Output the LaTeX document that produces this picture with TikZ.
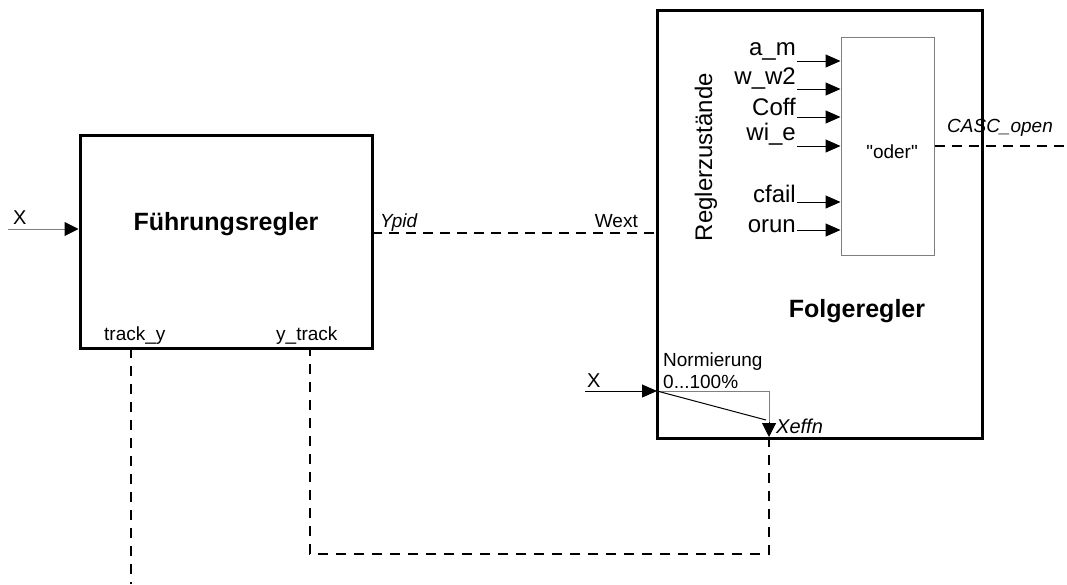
\documentclass[tikz,border=0pt]{standalone}
\usepackage{fontspec}
\setmainfont{Liberation Sans}
\newfontfamily\plainquotes{Liberation Sans}
\usetikzlibrary{arrows.meta, positioning, calc}
\definecolor{CGrayLine}{HTML}{7F7F7F}
\newcommand{\pxfont}[1]{\fontsize{#1}{#1}\selectfont}

\begin{document}
\begin{tikzpicture}[x=1pt, y=-1pt,
    regler/.style={draw, line width=3pt, inner sep=0pt},
    lbl/.style={inner sep=0pt, font=\pxfont{19}},
    biglbl/.style={inner sep=0pt, font=\pxfont{24}},
    title/.style={inner sep=0pt, font=\pxfont{25}\bfseries},
    sig/.style={line width=1pt, -{Triangle[length=15pt, width=13pt]}},
    dashsig/.style={line width=2pt, dash pattern=on 10pt off 7pt},
    dashtrack/.style={line width=2.5pt, dash pattern=on 10pt off 8pt}
]
    \useasboundingbox (0,0) rectangle (1067,584);

    % Blocks
    \node[regler, minimum width=292pt, minimum height=213pt] (fuehrung) at (226,241.5) {};
    \node[regler, minimum width=325pt, minimum height=428pt] (folge) at (819.5,224) {};
    \node[draw=CGrayLine, line width=1pt, minimum width=93pt, minimum height=218pt] (oder) at (887.5,146) {};

    % Titles
    \node[title, anchor=base] (fuehrungtext) at (226,230) {Führungsregler};
    \node[title, anchor=base] (folgetext) at (857,317) {Folgeregler};
    \node[biglbl, rotate=90, anchor=base] (zustand) at (712,157) {Reglerzustände};
    \node[lbl, anchor=base, font=\pxfont{19}\plainquotes] (odertext) at (892,158) {"oder"};

    % Input X of Fuehrungsregler
    \node[lbl, anchor=base west, font=\pxfont{20}] (xin) at (13,224) {X};
    \coordinate (xstart) at (8,229);
    \draw[CGrayLine, line width=1pt, -{Triangle[length=14pt, width=14pt, color=black, fill=black]}]
        (xstart) -- (xstart -| fuehrung.west);

    % Tracking labels
    \node[lbl, anchor=base west] (tracky) at (104,340) {track\_y};
    \node[lbl, anchor=base west] (ytrack) at (276,340) {y\_track};

    % Ypid -> Wext
    \coordinate (ypid) at (372,233);
    \node[lbl, anchor=base west, font=\pxfont{19}\itshape] (ypidtext) at (380,227) {Ypid};
    \node[lbl, anchor=base east] (wexttext) at (638,227) {Wext};
    \draw[dashsig] (ypid) -- (ypid -| folge.west);

    % Reglerzustaende -> oder
    \foreach \name/\txt/\base/\ly in {am/a\_m/55/61, ww/w\_w2/84/89, coff/Coff/115/117,
                                     wie/wi\_e/140/146, cfail/cfail/202/202, orun/orun/232/230} {
        \node[biglbl, anchor=base east] (\name) at (796,\base) {\txt};
        \coordinate (\name-in) at (797,\ly);
        \draw[sig] (\name-in) -- (\name-in -| oder.west);
    }

    % CASC_open
    \node[lbl, anchor=base west, font=\pxfont{19}\itshape] (casc) at (947,132) {CASC\_open};
    \coordinate (cascend) at (1067,146);
    \draw[dashsig] (oder.east |- cascend) -- (cascend);

    % Normierung
    \node[lbl, anchor=base west] (norm) at (663,366) {Normierung};
    \node[lbl, anchor=base west] (normrange) at (663,388) {0...100\%};
    \node[lbl, anchor=base west, font=\pxfont{20}] (xin2) at (587,387) {X};
    \coordinate (xstart2) at (585,391);
    \coordinate (normin) at (657,391);
    \coordinate (xeffn) at (769,437);
    \draw[sig] (xstart2) -- (normin);
    \draw[CGrayLine, line width=1pt] (normin) -| ($(xeffn)+(0,-14)$);
    \draw[line width=1pt] (normin) -- ($(xeffn)+(-3,-17)$);
    \draw[line width=1pt, -{Triangle[length=14pt, width=14pt]}] ($(xeffn)+(0,-15)$) -- (xeffn);
    \node[lbl, anchor=base west, font=\pxfont{20}\itshape] (xeffntext) at (776,433) {Xeffn};

    % Tracking lines
    \coordinate (trackystart) at (131,348);
    \coordinate (trackend) at (131,584);
    \draw[dashtrack] (trackystart) -- (trackend);
    \coordinate (loopbottom) at (310,554);
    \draw[dashtrack] (xeffn) -- (xeffn |- loopbottom) -- (loopbottom) -- (loopbottom |- fuehrung.south);
\end{tikzpicture}
\end{document}
